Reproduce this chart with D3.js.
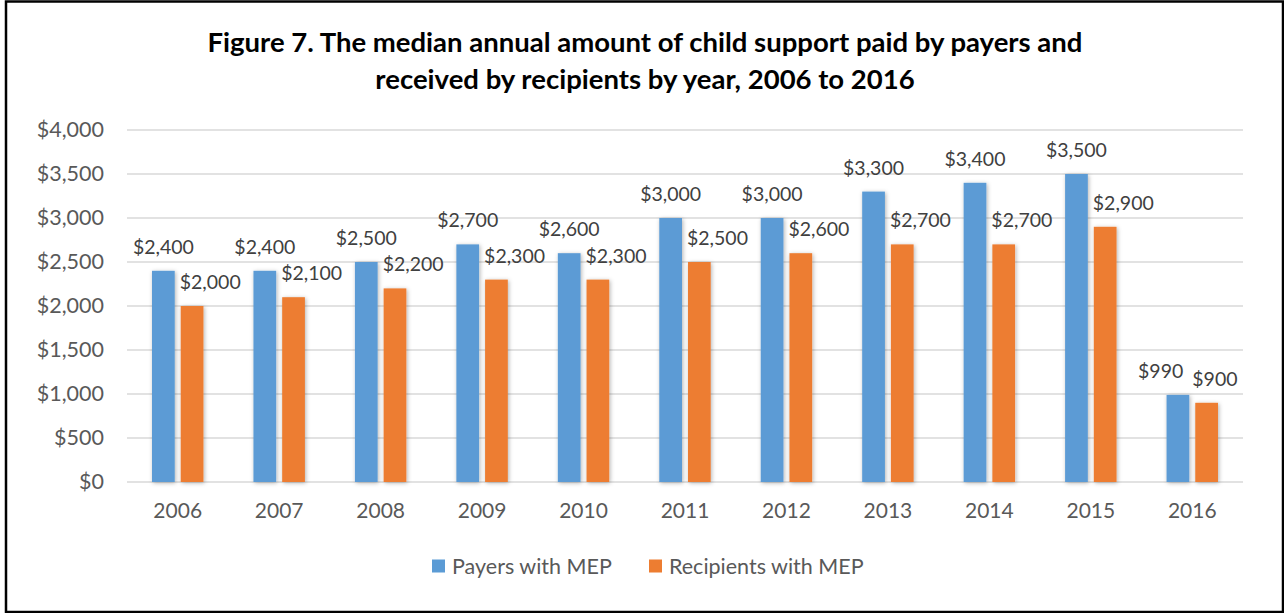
<!DOCTYPE html>
<html>
<head>
<meta charset="utf-8">
<script src="https://cdn.jsdelivr.net/npm/d3@7"></script>
<style>
  html, body { margin: 0; padding: 0; background: #fff; }
  svg { display: block; font-family: Lato, "Open Sans", sans-serif; }
</style>
</head>
<body>
<svg id="chart" width="1284" height="613"></svg>
<script>
// Median annual child support amounts, 2006–2016
const years = ["2006", "2007", "2008", "2009", "2010", "2011", "2012", "2013", "2014", "2015", "2016"];
const payers = [2400, 2400, 2500, 2700, 2600, 3000, 3000, 3300, 3400, 3500, 990];
const recipients = [2000, 2100, 2200, 2300, 2300, 2500, 2600, 2700, 2700, 2900, 900];
const seriesNames = ["Payers with MEP", "Recipients with MEP"];
const yTicks = [0, 500, 1000, 1500, 2000, 2500, 3000, 3500, 4000];
const titleLines = [
  "Figure 7. The median annual amount of child support paid by payers and",
  "received by recipients by year, 2006 to 2016"
];

const colors = ["#5B9BD5", "#ED7D31"];
const W = 1284, H = 613;
const plot = { left: 127, right: 1243, top: 130, bottom: 482 };

const svg = d3.select("#chart");

// Drop shadow used under the bars
const defs = svg.append("defs");
const shadow = defs.append("filter").attr("id", "barShadow")
  .attr("x", "-40%").attr("y", "-10%").attr("width", "180%").attr("height", "130%");
shadow.append("feDropShadow")
  .attr("dx", 1).attr("dy", 1).attr("stdDeviation", 2)
  .attr("flood-color", "#000").attr("flood-opacity", 0.3);

svg.append("rect").attr("width", W).attr("height", H).attr("fill", "#fff");

// Outer frame
svg.append("rect")
  .attr("x", 6).attr("y", 1.5).attr("width", 1277).attr("height", 610.5)
  .attr("fill", "none").attr("stroke", "#000").attr("stroke-width", 2.5);

// Title
svg.append("g").selectAll("text").data(titleLines).join("text")
  .attr("x", 645).attr("y", (d, i) => 52 + i * 37)
  .attr("text-anchor", "middle")
  .attr("font-size", 27.5).attr("font-weight", 700).attr("fill", "#000")
  .text(d => d);

// Scales
const x0 = d3.scaleBand().domain(years).range([plot.left, plot.right]).padding(0);
const x1 = d3.scaleBand().domain(seriesNames).range([0, x0.bandwidth()])
  .paddingInner(0.209).paddingOuter(0.871);
const y = d3.scaleLinear().domain([0, 4000]).range([plot.bottom, plot.top]);

// Grid lines
svg.append("g").selectAll("line").data(yTicks).join("line")
  .attr("x1", plot.left).attr("x2", plot.right)
  .attr("y1", d => y(d)).attr("y2", d => y(d))
  .attr("stroke", "#d9d9d9").attr("stroke-width", 1.5);

// Y axis labels
const fmt = d => "$" + d3.format(",")(d);
const yAxis = svg.append("g").attr("transform", `translate(${plot.left},0)`)
  .call(d3.axisLeft(y).tickValues(yTicks).tickFormat(fmt).tickSize(0).tickPadding(23));
yAxis.select(".domain").remove();
yAxis.selectAll("text").attr("font-size", 21.5).attr("fill", "#595959")
  .attr("font-family", "Lato, 'Open Sans', sans-serif");

// X axis labels
const xAxis = svg.append("g").attr("transform", `translate(0,${plot.bottom})`)
  .call(d3.axisBottom(x0).tickSize(0).tickPadding(21));
xAxis.select(".domain").remove();
xAxis.selectAll("text").attr("font-size", 21).attr("fill", "#595959")
  .attr("font-family", "Lato, 'Open Sans', sans-serif");

// Bars
const rows = years.map((yr, i) => ({ year: yr, values: [payers[i], recipients[i]] }));
const groups = svg.append("g").selectAll("g").data(rows).join("g")
  .attr("transform", d => `translate(${x0(d.year)},0)`);

groups.selectAll("rect")
  .data(d => d.values.map((v, k) => ({ v, k })))
  .join("rect")
  .attr("x", d => x1(seriesNames[d.k]))
  .attr("width", x1.bandwidth())
  .attr("y", d => y(d.v))
  .attr("height", d => y(0) - y(d.v))
  .attr("fill", d => colors[d.k])
  .attr("filter", "url(#barShadow)");

// Value labels: payer labels centred over their bar, recipient labels
// start at their bar's left edge; a payer label that would collide with
// the recipient label beside it is pushed to the left.
const labelSize = 19.5;
const labelLayer = svg.append("g");
rows.forEach(r => {
  const gx = x0(r.year);
  const bx = seriesNames.map(s => gx + x1(s));
  const bw = x1.bandwidth();
  const baseY = r.values.map(v => y(v) - 17);
  const overlapV = Math.abs(baseY[0] - baseY[1]) < labelSize;

  const recX = overlapV ? bx[1] - 3 : bx[1] - 1;
  labelLayer.append("text")
    .attr("x", recX).attr("y", baseY[1])
    .attr("font-size", labelSize).attr("fill", "#404040")
    .text(fmt(r.values[1]));

  const pay = labelLayer.append("text")
    .attr("x", bx[0] + bw / 2).attr("y", baseY[0])
    .attr("text-anchor", "middle")
    .attr("font-size", labelSize).attr("fill", "#404040")
    .text(fmt(r.values[0]));

  const pw = pay.node().getComputedTextLength();
  const payRight = bx[0] + bw / 2 + pw / 2;
  if (overlapV && payRight > recX - 9) {
    pay.attr("text-anchor", "end").attr("x", recX - 9);
  }
});

// Legend
const legend = svg.append("g");
const legendX = [432, 649];
seriesNames.forEach((name, k) => {
  legend.append("rect")
    .attr("x", legendX[k]).attr("y", 559.5).attr("width", 13).attr("height", 13)
    .attr("fill", colors[k]);
  legend.append("text")
    .attr("x", legendX[k] + 20).attr("y", 573.5)
    .attr("font-size", 21.5).attr("fill", "#595959")
    .text(name);
});
</script>
</body>
</html>
